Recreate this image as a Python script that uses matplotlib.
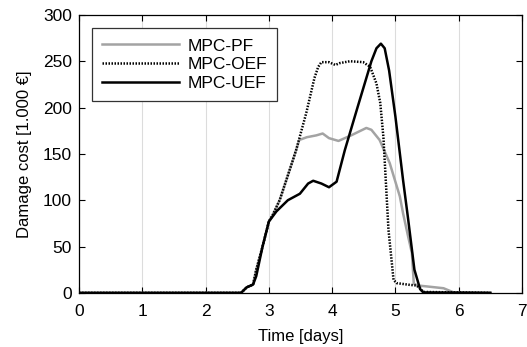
import matplotlib
matplotlib.use("Agg")
import matplotlib.pyplot as plt

# values
t_pf = [0, 2.56, 2.65, 2.75, 2.8, 2.9, 3.0, 3.06, 3.17, 3.33, 3.43, 3.48, 3.6, 3.75, 3.85, 3.95,
        4.1, 4.3, 4.54, 4.62, 4.75, 4.91, 5.07, 5.12, 5.2, 5.26, 5.29, 5.35, 5.49, 5.76,
        5.92, 6.5]
pf = [0, 0, 6, 9, 25, 50, 77, 84, 100, 133, 154, 165, 168, 170, 172, 167,
      164, 170, 178, 176, 165, 140, 104, 86, 61, 43, 10, 8, 7, 5,
      0.5, 0]

t_oef = [0, 2.56, 2.65, 2.75, 2.8, 2.9, 3.0, 3.06, 3.17, 3.33, 3.43, 3.59, 3.72, 3.78,
         3.83, 3.95, 4.05, 4.12, 4.28, 4.49, 4.6, 4.7, 4.76, 4.81, 4.89, 4.97, 5.02,
         5.23, 5.33, 5.39, 5.44, 6.5]
oef = [0, 0, 6, 9, 25, 50, 77, 84, 100, 133, 154, 194, 232, 244,
       249, 249, 246, 248, 250, 249, 244, 226, 205, 168, 68, 14, 10.5,
       8.6, 8, 5, 1, 0]

t_uef = [0, 2.56, 2.65, 2.75, 2.8, 2.9, 3.0, 3.12, 3.3, 3.49, 3.62, 3.7, 3.83, 3.95,
         4.07, 4.2, 4.4, 4.62, 4.7, 4.77, 4.83, 4.9, 5.0, 5.12, 5.2, 5.3, 5.39, 5.44, 6.5]
uef = [0, 0, 6, 9, 18, 50, 77, 88, 100, 107, 118, 121, 118, 114,
       120, 154, 200, 250, 264, 269, 264, 240, 190, 122, 80, 25, 4, 0.5, 0]

x_ticks = [0, 1, 2, 3, 4, 5, 6, 7]
y_ticks = [0, 50, 100, 150, 200, 250, 300]

plt.rcParams['font.family'] = ['Liberation Sans', 'DejaVu Sans']

fig = plt.figure(figsize=(5.27, 3.47), dpi=100)
ax = fig.add_axes([0.150, 0.156, 0.8405, 0.801])

ax.plot(t_pf, pf, color='#a3a3a3', lw=1.8, label='MPC-PF')
ax.plot(t_oef, oef, color='black', lw=1.8, ls=(0, (0.6, 0.6)), label='MPC-OEF')
ax.plot(t_uef, uef, color='black', lw=1.8, label='MPC-UEF')

ax.set_xlim(0, 7)
ax.set_ylim(0, 300)
ax.set_xticks(x_ticks)
ax.set_yticks(y_ticks)
ax.xaxis.grid(True, color='#dcdcdc', lw=0.8)
ax.set_axisbelow(True)
ax.tick_params(direction='in', top=True, right=True, labelsize=12.5, length=4, width=0.8)
ax.tick_params(axis='x', pad=8)
ax.tick_params(axis='y', pad=5)
for s in ax.spines.values():
    s.set_linewidth(0.9)

ax.set_xlabel('Time [days]', fontsize=12, labelpad=7)
ax.set_ylabel('Damage cost [1.000 €]', fontsize=12, labelpad=8)

leg = ax.legend(loc='upper left', bbox_to_anchor=(0.029, 0.953), borderaxespad=0,
                fontsize=12.5, handlelength=4.4, labelspacing=0.2, fancybox=False,
                framealpha=1, edgecolor='#333333', borderpad=0.6, handletextpad=0.5)
leg.get_frame().set_linewidth(0.9)

fig.savefig('out.png', dpi=100)
